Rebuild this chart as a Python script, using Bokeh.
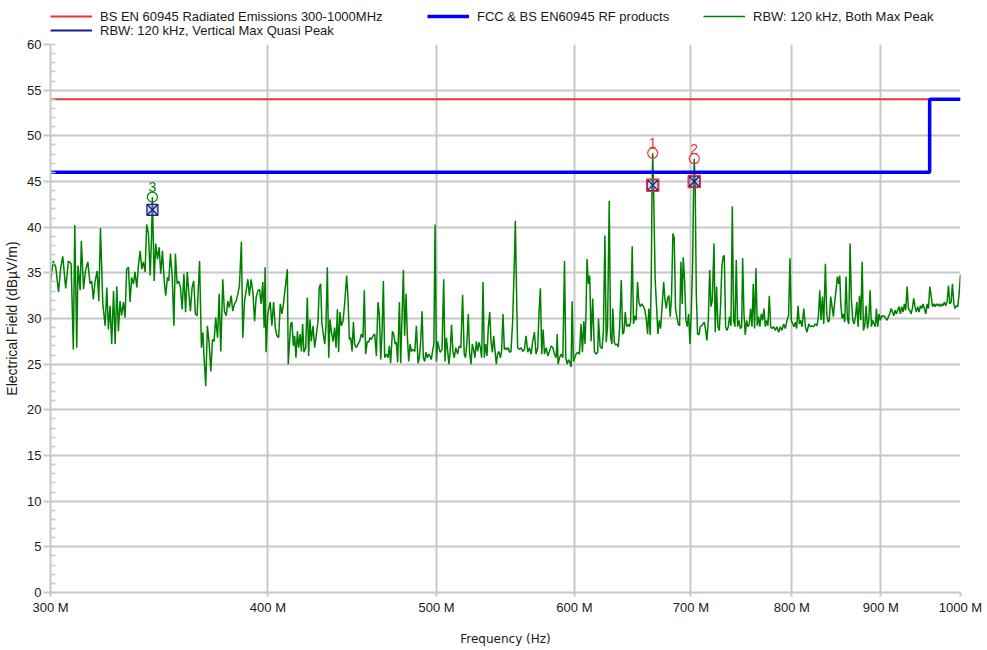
from bokeh.plotting import figure
from bokeh.layouts import column
from bokeh.models import (Range1d, FixedTicker, SingleIntervalTicker, CustomJSTickFormatter,
                          Legend, LegendItem, ColumnDataSource)
from bokeh.core.properties import value
from bokeh.embed import file_html
from bokeh.resources import INLINE

# ---------------- data ----------------
trace_freq_mhz = [
    300.0, 301.1, 302.1, 303.2, 304.1, 304.9, 306.1, 307.2, 308.3, 309.2,
    309.8, 310.6, 311.1, 312.0, 312.5, 313.4, 314.2, 315.2, 316.1, 316.8,
    317.5, 318.2, 319.1, 319.8, 320.5, 321.5, 322.5, 323.2, 323.9, 324.6,
    325.3, 326.1, 326.8, 327.5, 328.2, 328.9, 329.6, 330.4, 331.1, 331.8,
    332.6, 333.3, 334.0, 334.8, 335.5, 336.3, 337.0, 337.8, 338.5, 339.2,
    340.0, 340.7, 341.5, 342.3, 342.9, 343.3, 344.1, 344.8, 345.6, 346.4,
    347.1, 347.9, 348.7, 349.4, 350.2, 350.8, 351.6, 352.4, 353.2, 353.9,
    354.7, 355.5, 356.3, 357.1, 357.9, 358.7, 359.5, 360.2, 361.0, 361.8,
    362.6, 363.4, 364.2, 365.4, 366.3, 367.0, 367.6, 368.4, 369.2, 370.0,
    370.9, 371.7, 372.5, 373.3, 374.2, 375.0, 375.8, 376.8, 377.6, 378.5,
    379.3, 380.1, 381.0, 381.8, 382.7, 383.5, 384.4, 385.2, 386.2, 386.9,
    387.8, 388.6, 389.5, 390.3, 391.2, 392.1, 393.0, 393.8, 394.7, 395.6,
    396.4, 397.3, 398.0, 398.5, 399.0, 399.9, 401.2, 402.1, 403.0, 403.9,
    404.8, 405.7, 406.6, 407.5, 408.4,
    410.4, 410.9, 412.2, 412.9, 413.7, 414.4, 415.1, 415.9, 416.6, 417.4,
    418.1, 418.8, 419.5, 420.5, 421.4, 422.1, 422.9, 423.6, 424.6, 425.5,
    426.5, 427.4, 428.1, 428.9, 429.6, 430.4, 431.2, 431.9, 432.7, 433.5,
    434.2, 435.0, 436.0, 436.9, 437.7, 438.5, 439.2, 440.0, 440.8, 441.8,
    442.8, 443.9, 444.7, 445.5, 446.3, 447.1, 447.9, 448.6, 449.6, 450.6,
    451.6, 452.6, 453.6, 454.4, 455.2, 456.2, 457.0, 457.8, 458.6, 459.7,
    460.7, 461.7, 462.7, 463.5, 464.4, 465.2, 466.0, 466.8, 467.8, 468.9,
    469.7, 470.5, 471.6, 472.4, 473.3, 474.1, 474.9, 476.0, 476.8, 477.7,
    478.5, 479.3, 480.2, 481.0, 481.9, 482.8, 483.6, 484.7, 485.8, 486.8,
    487.9, 488.7, 489.6, 490.5, 491.3, 492.2, 493.0, 493.9, 494.8, 495.6,
    496.5, 497.3, 498.2, 499.0, 499.9, 500.7, 501.6, 502.4, 503.6, 504.7,
    505.6, 506.5, 507.3, 508.2, 509.1, 510.0, 510.9, 511.8, 512.9, 514.1,
    515.2, 516.3, 517.5, 518.6, 519.5, 520.5, 521.4, 522.3, 523.3, 524.2,
    525.1, 526.0, 527.0, 527.9, 528.8, 529.8, 530.7, 531.7, 532.6, 533.5,
    534.5, 535.4, 536.4, 537.3, 538.3, 539.2, 540.1, 541.1, 542.0, 543.0,
    544.0, 544.9, 545.9, 546.9, 547.8, 548.8, 549.8, 550.7, 551.7, 552.9,
    554.2, 554.9, 555.9, 556.6, 557.9, 559.1, 560.3, 561.6, 562.8, 564.1,
    565.3, 566.6, 567.8, 569.1, 570.3, 571.6, 572.6, 573.6, 574.6, 575.7,
    576.7, 578.0, 579.3, 580.5, 581.8, 583.1, 584.4, 585.7, 586.5, 587.2,
    588.3, 589.6, 590.9, 592.2, 593.2, 594.3, 595.3, 596.4, 597.4, 598.2,
    599.2, 600.3, 601.3, 602.7, 604.0, 605.3, 606.4, 607.5, 608.5, 609.3,
    610.1, 611.2, 612.3, 613.4, 614.7, 616.1, 617.4, 618.8,
    619.4, 620.8, 622.4, 623.5, 624.7, 625.8, 626.9, 628.3, 629.4, 630.5,
    631.3, 632.5, 633.6, 634.7, 635.9, 637.0, 638.4, 639.5, 640.6, 641.8,
    642.9, 644.0, 645.2, 646.3, 647.7, 648.8, 650.0, 651.1, 652.3, 653.4,
    654.6, 656.0, 657.5, 658.6, 659.8, 661.0, 662.1, 663.3, 664.2, 664.9,
    665.5, 666.1, 667.7, 668.9, 670.1, 671.3, 672.5, 673.7, 675.2, 676.4,
    677.6, 678.7, 679.9, 681.1, 682.3, 683.5, 684.7, 685.9, 687.1, 688.3,
    689.6, 690.8, 692.0, 692.9, 694.2, 695.4, 696.6, 697.9, 699.1, 700.3,
    701.6, 702.5, 703.1, 704.0, 705.0, 706.2, 707.5, 708.7, 710.0, 711.2,
    712.5, 713.8, 715.0, 716.3, 717.6, 718.8, 720.1, 721.7, 722.9, 724.2,
    725.5, 726.8, 728.0, 729.3, 730.6, 731.6, 732.9, 734.2, 735.5, 736.8,
    738.1, 739.4, 740.7, 742.0, 743.3, 744.6, 745.9, 747.3, 748.6, 749.6,
    750.9, 752.2, 753.5, 754.9, 756.2, 757.5, 758.9, 760.2, 761.5, 762.9,
    764.2, 765.6, 766.9, 768.3, 769.7, 771.0, 772.4, 773.7, 775.1, 776.5,
    777.9, 779.2, 781.0, 782.7, 784.4, 786.2, 787.9, 789.6, 791.4, 793.1,
    794.9, 796.6, 798.0, 799.4, 800.9, 802.3, 803.7, 805.1, 806.6, 808.0,
    809.4, 810.9, 812.7, 814.5, 816.2, 818.1, 819.8, 821.6, 823.4, 825.3,
    827.1, 828.6, 830.1, 831.5, 833.0, 834.5, 836.3, 837.8, 839.3, 840.7,
    842.2, 843.7, 845.2, 846.7, 848.2, 849.7, 851.2, 852.4, 853.5, 855.0,
    856.5, 858.0, 859.5, 861.0, 862.6, 864.1, 865.6, 867.2, 868.7, 870.3,
    871.8, 873.3, 874.9, 876.4, 878.0, 879.5, 881.0, 882.6, 884.2, 885.7,
    887.3, 888.8, 890.4, 892.0, 893.5, 894.7, 896.3, 897.8, 899.4, 901.0,
    902.6, 904.2, 905.8, 907.4, 909.0, 910.6, 912.3, 913.9, 915.5, 917.1,
    918.7, 920.3, 921.9, 923.6, 925.2, 926.9, 928.5, 930.1, 931.8, 933.4,
    935.0, 936.7, 938.3, 940.0, 941.6, 943.3, 945.0, 946.7, 948.4, 950.0,
    951.7, 953.4, 955.1, 956.8, 958.5, 960.2, 961.9, 963.6, 965.3, 967.0,
    968.7, 970.4, 972.1, 973.8, 975.5, 977.2, 978.9, 980.7, 982.4, 984.2,
    985.9, 987.7, 989.4, 991.2, 992.9, 994.7, 996.4, 998.2, 1000.0,
]
trace_level = [
    34.0, 36.3, 35.6, 32.9, 35.6, 36.8, 33.3, 36.3, 36.0, 26.6,
    40.2, 26.8, 35.8, 33.1, 38.5, 33.2, 35.2, 36.2, 33.8, 34.1,
    32.1, 34.0, 35.2, 31.9, 39.9, 31.6, 29.2, 33.4, 28.8, 31.4,
    27.2, 33.0, 27.2, 33.5, 28.6, 31.9, 30.3, 31.8, 30.1, 35.4,
    35.6, 31.8, 34.5, 33.8, 35.1, 33.4, 35.8, 37.4, 35.4, 36.2,
    35.1, 40.3, 39.3, 34.7, 38.9, 43.3, 34.1, 38.2, 36.5, 37.8,
    34.9, 37.4, 34.1, 32.5, 34.5, 34.1, 37.1, 34.7, 29.2, 37.1,
    33.8, 34.1, 33.4, 31.0, 34.9, 30.7, 35.1, 33.0, 30.8, 33.4,
    34.1, 30.5, 30.3, 36.3, 26.8, 28.5, 25.7, 22.6, 29.2, 27.5,
    24.2, 27.7, 27.5, 30.1, 27.9, 32.7, 26.4, 34.3, 30.8, 30.3,
    31.9, 31.2, 32.5, 30.8, 31.6, 31.9, 32.7, 33.6, 38.4, 27.9,
    31.9, 33.0, 34.3, 32.5, 34.3, 32.9, 29.7, 32.3, 33.0, 33.2,
    31.6, 34.0, 29.0, 35.6, 26.3, 30.5, 31.8, 29.2, 31.8, 29.0,
    28.1, 27.9, 31.6, 30.5, 31.8,
    35.4, 25.0, 29.4, 29.6, 27.0, 28.1, 25.7, 28.6, 26.8, 28.3,
    26.4, 29.4, 26.3, 26.8, 32.3, 25.9, 29.9, 27.5, 29.2, 26.8,
    28.3, 29.7, 33.4, 33.8, 29.4, 28.3, 27.2, 29.0, 35.6, 25.7,
    29.9, 28.6, 27.5, 29.0, 26.8, 31.0, 26.3, 30.7, 29.2, 29.7,
    31.8, 34.7, 32.3, 27.7, 27.9, 26.4, 29.6, 27.2, 26.8, 27.2,
    27.5, 28.3, 27.9, 33.1, 26.1, 27.5, 27.4, 27.9, 27.7, 28.1,
    28.3, 25.9, 31.8, 30.5, 25.5, 28.6, 34.1, 25.7, 26.1, 25.7,
    27.0, 25.1, 28.6, 28.3, 27.2, 27.4, 25.2, 31.8, 25.1, 30.5,
    35.3, 28.1, 32.7, 28.1, 25.3, 27.2, 26.4, 26.6, 26.4, 29.2,
    25.1, 25.7, 27.5, 30.8, 25.7, 25.3, 26.3, 25.7, 26.1, 25.9,
    25.5, 26.4, 27.2, 40.3, 25.3, 27.5, 26.8, 26.3, 26.6, 34.3,
    25.3, 27.9, 26.6, 25.0, 26.4, 29.3, 26.4, 25.7, 26.8, 26.1,
    27.0, 26.8, 32.6, 26.1, 25.7, 27.5, 30.5, 26.3, 25.0, 27.2,
    26.6, 25.7, 27.5, 26.4, 27.4, 26.8, 25.7, 34.0, 25.7, 27.2,
    25.9, 29.0, 30.7, 27.5, 26.3, 28.1, 26.6, 25.0, 26.1, 26.4,
    25.7, 26.4, 30.5, 26.6, 26.8, 26.6, 26.8, 26.3, 26.4, 29.6,
    36.3, 40.7, 31.9, 26.8, 26.6, 26.8, 26.4, 26.6, 28.1, 26.3,
    26.8, 26.1, 27.5, 28.5, 26.1, 26.8, 30.8, 33.3, 26.1, 28.8,
    26.1, 26.8, 25.9, 26.4, 27.0, 26.8, 26.1, 25.7, 28.3, 25.0,
    25.7, 26.1, 25.7, 36.3, 25.7, 25.0, 25.5, 25.2, 24.7, 31.9,
    25.3, 25.7, 26.1, 26.3, 26.1, 29.4, 26.3, 29.7, 27.2, 30.8,
    36.5, 33.8, 34.7, 27.5, 32.2, 26.4, 26.1, 26.3,
    30.0, 26.9, 26.7, 28.7, 39.1, 27.4, 29.1, 42.9, 28.0, 27.2,
    31.1, 27.4, 27.1, 27.2, 26.9, 29.1, 34.2, 28.3, 28.5, 30.7,
    29.1, 29.4, 29.1, 29.6, 37.9, 29.4, 30.3, 29.8, 34.0, 31.8,
    31.3, 31.6, 31.3, 30.9, 30.0, 28.3, 31.1, 28.2, 34.2, 44.0,
    48.1, 45.0, 34.2, 31.3, 28.3, 29.8, 28.9, 31.1, 34.0, 32.0,
    31.1, 32.2, 32.5, 30.2, 32.5, 39.3, 38.8, 31.1, 30.2, 29.4,
    29.2, 36.2, 31.6, 36.7, 34.2, 29.8, 29.1, 30.5, 27.2, 30.5,
    36.0, 44.5, 47.5, 44.1, 32.7, 28.3, 28.2, 29.1, 29.2, 29.4,
    29.6, 28.7, 27.6, 29.8, 35.3, 31.3, 32.0, 38.2, 28.5, 33.5,
    29.1, 28.7, 31.4, 35.7, 36.8, 36.9, 29.1, 28.7, 29.1, 30.2,
    29.2, 42.3, 29.8, 29.1, 36.4, 29.1, 29.8, 28.9, 29.1, 36.6,
    30.5, 28.2, 29.8, 29.1, 29.4, 31.1, 29.1, 33.8, 28.9, 35.5,
    29.2, 30.2, 29.1, 30.5, 29.8, 31.1, 29.1, 29.8, 29.2, 32.5,
    29.1, 28.9, 29.1, 28.7, 29.1, 28.5, 29.1, 28.7, 29.4, 28.9,
    29.8, 30.3, 36.6, 29.8, 29.4, 29.1, 29.6, 28.9, 31.4, 29.4,
    29.8, 29.1, 31.1, 29.1, 28.5, 29.4, 29.1, 29.2, 29.1, 29.4,
    29.2, 30.2, 33.1, 29.8, 32.4, 29.4, 36.0, 30.5, 29.6, 29.8,
    32.4, 31.3, 30.2, 31.8, 33.1, 34.6, 33.8, 34.7, 31.6, 30.0,
    30.5, 29.6, 34.6, 30.0, 29.4, 38.2, 32.0, 29.8, 29.4, 30.2,
    31.8, 29.1, 32.5, 29.8, 36.2, 28.7, 29.2, 31.4, 28.9, 29.8,
    33.1, 29.1, 29.8, 29.4, 29.1, 31.1, 29.1, 30.5, 29.8, 30.3,
    30.2, 30.3, 30.0, 29.8, 30.2, 30.5, 31.1, 30.7, 30.3, 30.9,
    30.5, 30.9, 31.3, 30.5, 31.3, 30.7, 31.6, 30.9, 33.5, 31.1,
    30.9, 30.5, 31.1, 32.2, 31.3, 30.7, 31.3, 30.7, 31.4, 31.1,
    31.6, 31.1, 30.5, 31.6, 31.1, 33.5, 32.5, 31.3, 31.6, 31.3,
    31.6, 31.4, 31.6, 31.3, 31.6, 31.4, 31.8, 31.4, 31.8, 33.6,
    31.6, 31.8, 33.8, 31.6, 31.1, 31.4, 31.3, 32.7, 34.8,
]

limit_radiated_freq_mhz = [300, 1000]
limit_radiated_level = [54, 54]
limit_fcc_freq_mhz = [300, 960, 960, 1000]
limit_fcc_level = [46, 46, 54, 54]

peak_freq_mhz = [665.5, 703.1, 343.3]
peak_level = [48.1, 47.5, 43.3]
qp_level = [44.6, 45.0, 41.9]
peak_labels = ["1", "2", "3"]

x_tick_mhz = [300, 400, 500, 600, 700, 800, 900, 1000]
x_tick_labels = ["300 M", "400 M", "500 M", "600 M", "700 M", "800 M", "900 M", "1000 M"]

legend_labels = ["BS EN 60945 Radiated Emissions 300-1000MHz",
                 "FCC & BS EN60945 RF products",
                 "RBW: 120 kHz, Both Max Peak",
                 "RBW: 120 kHz, Vertical Max Quasi Peak"]

# ---------------- style ----------------
MHZ = 1e6
RED = "#ee3333"
BLUE = "#0000ff"
GREEN = "#008000"
NAVY = "#1c1c8c"
GRID = "#c8c8c8"
FONT = "Liberation Sans"

W = 987
LEG_H = 38                     # legend strip on top
H = 650 - LEG_H                # main chart
FL, FT, FW, FH = 50, 6, 910, 548

# ---------------- legend strip (its frame is aligned with the chart frame) ----------------
lf = figure(width=W, height=LEG_H, x_range=Range1d(0, 1), y_range=Range1d(0, 1),
            x_axis_location=None, y_axis_location=None,
            output_backend="svg", toolbar_location=None,
            min_border_left=0, min_border_right=0, min_border_top=0, min_border_bottom=0)
lf.outline_line_color = None
lf.grid.visible = False
lf.background_fill_color = "white"
lf.border_fill_color = "white"

# swatch renderers: their points lie outside the strip's ranges, only the legend glyph shows
off = [5, 6]
l_red = lf.line(off, off, line_color=RED, line_width=2)
l_blue = lf.line(off, off, line_color=BLUE, line_width=3.5)
l_green = lf.line(off, off, line_color=GREEN, line_width=1.5)
l_navy = lf.line(off, off, line_color=NAVY, line_width=2)


def add_entry(label, renderer, x, y_bottom):
    lg = Legend(items=[LegendItem(label=label, renderers=[renderer])],
                location=(x, y_bottom), orientation="horizontal",
                glyph_width=42, glyph_height=16, label_height=16,
                label_standoff=8, padding=0, margin=0, spacing=0,
                border_line_color=None, background_fill_alpha=0,
                label_text_font=FONT, label_text_font_size="13px",
                label_text_color="#1a1a1a")
    lf.add_layout(lg)


# location = bottom-left corner of each entry, relative to the strip's frame
add_entry(legend_labels[0], l_red, 0, 14)
add_entry(legend_labels[1], l_blue, 377, 14)
add_entry(legend_labels[2], l_green, 653, 14)
add_entry(legend_labels[3], l_navy, 0, 0)

# ---------------- main chart ----------------
p = figure(width=W, height=H, x_axis_type="log",
           x_range=Range1d(300 * MHZ, 1000 * MHZ), y_range=Range1d(0, 60),
           output_backend="svg", toolbar_location=None,
           min_border_left=FL, min_border_right=W - FL - FW,
           min_border_top=FT, min_border_bottom=H - FT - FH)
p.outline_line_color = None
p.background_fill_color = "white"
p.border_fill_color = "white"

xt = FixedTicker(ticks=[v * MHZ for v in x_tick_mhz], minor_ticks=[])
p.xaxis.ticker = xt
p.xgrid.ticker = xt
p.xaxis.formatter = CustomJSTickFormatter(
    args=dict(vals=[v * MHZ for v in x_tick_mhz], labs=x_tick_labels),
    code="""
const i = vals.findIndex(v => Math.abs(v - tick) < 1000);
return i >= 0 ? labs[i] : "";
""")
yt = SingleIntervalTicker(interval=5, num_minor_ticks=5)
p.yaxis.ticker = yt
p.ygrid.ticker = yt

for g in (p.xgrid, p.ygrid):
    g.grid_line_color = GRID
    g.grid_line_width = 2

for ax in (p.xaxis, p.yaxis):
    ax.axis_line_color = GRID
    ax.axis_line_width = 2
    ax.major_tick_line_color = GRID
    ax.major_tick_line_width = 2
    ax.minor_tick_line_color = GRID
    ax.minor_tick_line_width = 1.5
    ax.major_label_text_font = FONT
    ax.major_label_text_font_size = "13px"
    ax.major_label_text_color = "#1a1a1a"
    ax.axis_label_text_font_style = "normal"
    ax.axis_label_text_color = "#1a1a1a"

p.xaxis.major_tick_in = 0
p.xaxis.major_tick_out = 4
p.xaxis.minor_tick_line_color = None
p.xaxis.major_label_standoff = 3
p.xaxis.axis_label = "Frequency (Hz)"
p.xaxis.axis_label_text_font = "DejaVu Sans"
p.xaxis.axis_label_text_font_size = "12px"
p.xaxis.axis_label_standoff = 14

p.yaxis.major_tick_in = 0
p.yaxis.major_tick_out = 7
p.yaxis.minor_tick_in = 5
p.yaxis.minor_tick_out = 0
p.yaxis.major_label_standoff = 2
p.yaxis.axis_label = "Electrical Field (dBµV/m)"
p.yaxis.axis_label_text_font = FONT
p.yaxis.axis_label_text_font_size = "14px"
p.yaxis.axis_label_standoff = 4

p.line([f * MHZ for f in trace_freq_mhz], trace_level,
       line_color=GREEN, line_width=1.5)
p.line([f * MHZ for f in limit_radiated_freq_mhz], limit_radiated_level,
       line_color=RED, line_width=2)
p.line([f * MHZ for f in limit_fcc_freq_mhz], limit_fcc_level,
       line_color=BLUE, line_width=3.5)

pk = ColumnDataSource(dict(
    x=[f * MHZ for f in peak_freq_mhz], y=peak_level, qp=qp_level,
    label=peak_labels, color=[RED, RED, GREEN]))

p.scatter("x", "qp", source=pk, marker="square_x", size=11,
          line_color=NAVY, line_width=1.3, fill_color="#7f7fd0", fill_alpha=0.35)
p.scatter([f * MHZ for f in peak_freq_mhz[:2]], qp_level[:2], marker="square", size=12,
          line_color=RED, line_width=1.5, fill_color=None)
p.scatter("x", "y", source=pk, marker="circle", size=10,
          line_color="color", line_width=1.2, fill_color=None)
p.text("x", "y", text="label", source=pk, text_color="color",
       text_align="center", text_baseline="bottom", y_offset=-5,
       text_font=value(FONT), text_font_size="14px")

layout = column(lf, p, spacing=0)
open("out.html", "w").write(file_html(layout, INLINE))
